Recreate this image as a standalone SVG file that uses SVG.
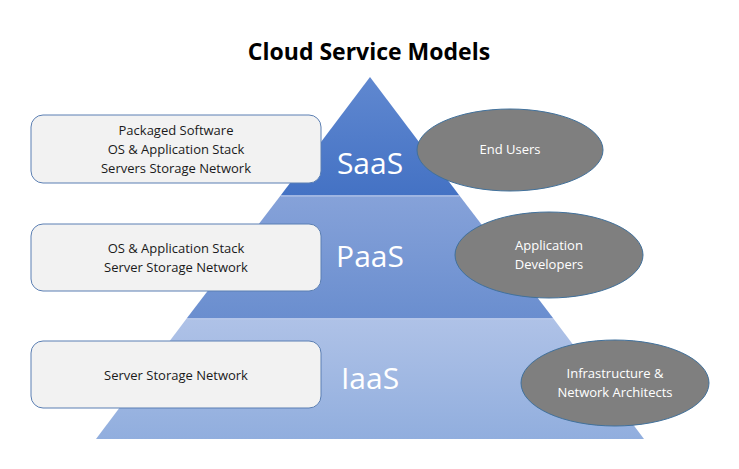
<svg xmlns="http://www.w3.org/2000/svg" width="739" height="469" viewBox="0 0 739 469">
<defs>
<linearGradient id="gS" x1="0" y1="0" x2="0" y2="1"><stop offset="0" stop-color="#6088d0"/><stop offset="1" stop-color="#4472c4"/></linearGradient>
<linearGradient id="gP" x1="0" y1="0" x2="0" y2="1"><stop offset="0" stop-color="#86a2d9"/><stop offset="1" stop-color="#6a8ecf"/></linearGradient>
<linearGradient id="gI" x1="0" y1="0" x2="0" y2="1"><stop offset="0" stop-color="#afc2e7"/><stop offset="1" stop-color="#91aede"/></linearGradient>
<style>
.box{fill:#f2f2f2;stroke:#5b7fb3;stroke-width:1}
.ell{fill:#7f7f7f;stroke:#41719c;stroke-width:1}
.bt{font-family:"Open Sans","Noto Sans",sans-serif;font-size:13px;fill:#1a1a1a;text-anchor:middle}
.et{font-family:"Open Sans","Noto Sans",sans-serif;font-size:13px;fill:#ffffff;text-anchor:middle}
.lv{font-family:"Open Sans","Noto Sans",sans-serif;font-size:30px;fill:#ffffff;text-anchor:middle}
.sep{stroke:#b8c8ea;stroke-width:1}
</style>
</defs>
<rect width="739" height="469" fill="#ffffff"/>
<text x="369" y="60" font-family="'Open Sans','Noto Sans',sans-serif" font-size="23" font-weight="bold" fill="#000" text-anchor="middle">Cloud Service Models</text>
<g id="pyramid">
<polygon points="187,318 553,318 644,439 96,439" fill="url(#gI)"/>
<polygon points="281,195 459,195 553,318 187,318" fill="url(#gP)"/>
<polygon points="370,77 459,195 281,195" fill="url(#gS)"/>
<line class="sep" x1="281" y1="196" x2="459" y2="196"/>
<line class="sep" x1="187" y1="319" x2="553" y2="319"/>
<text class="lv" x="370" y="174">SaaS</text>
<text class="lv" x="370" y="267">PaaS</text>
<text class="lv" x="370" y="389">IaaS</text>
</g>
<g id="box-saas">
<rect class="box" x="31" y="115" width="290" height="68" rx="12"/>
<text class="bt" x="176" y="135">Packaged Software</text>
<text class="bt" x="176" y="154">OS &amp; Application Stack</text>
<text class="bt" x="176" y="173">Servers Storage Network</text>
</g>
<g id="box-paas">
<rect class="box" x="31" y="224" width="290" height="67" rx="12"/>
<text class="bt" x="176" y="253">OS &amp; Application Stack</text>
<text class="bt" x="176" y="272">Server Storage Network</text>
</g>
<g id="box-iaas">
<rect class="box" x="31" y="341" width="290" height="67" rx="12"/>
<text class="bt" x="176" y="380">Server Storage Network</text>
</g>
<g id="ell-saas">
<ellipse class="ell" cx="510" cy="150" rx="93" ry="41"/>
<text class="et" x="510" y="154">End Users</text>
</g>
<g id="ell-paas">
<ellipse class="ell" cx="549" cy="255" rx="94" ry="43"/>
<text class="et" x="549" y="250">Application</text>
<text class="et" x="549" y="269">Developers</text>
</g>
<g id="ell-iaas">
<ellipse class="ell" cx="615" cy="383" rx="94" ry="43"/>
<text class="et" x="615" y="378">Infrastructure &amp;</text>
<text class="et" x="615" y="397">Network Architects</text>
</g>
<g id="connectors"/>
</svg>
